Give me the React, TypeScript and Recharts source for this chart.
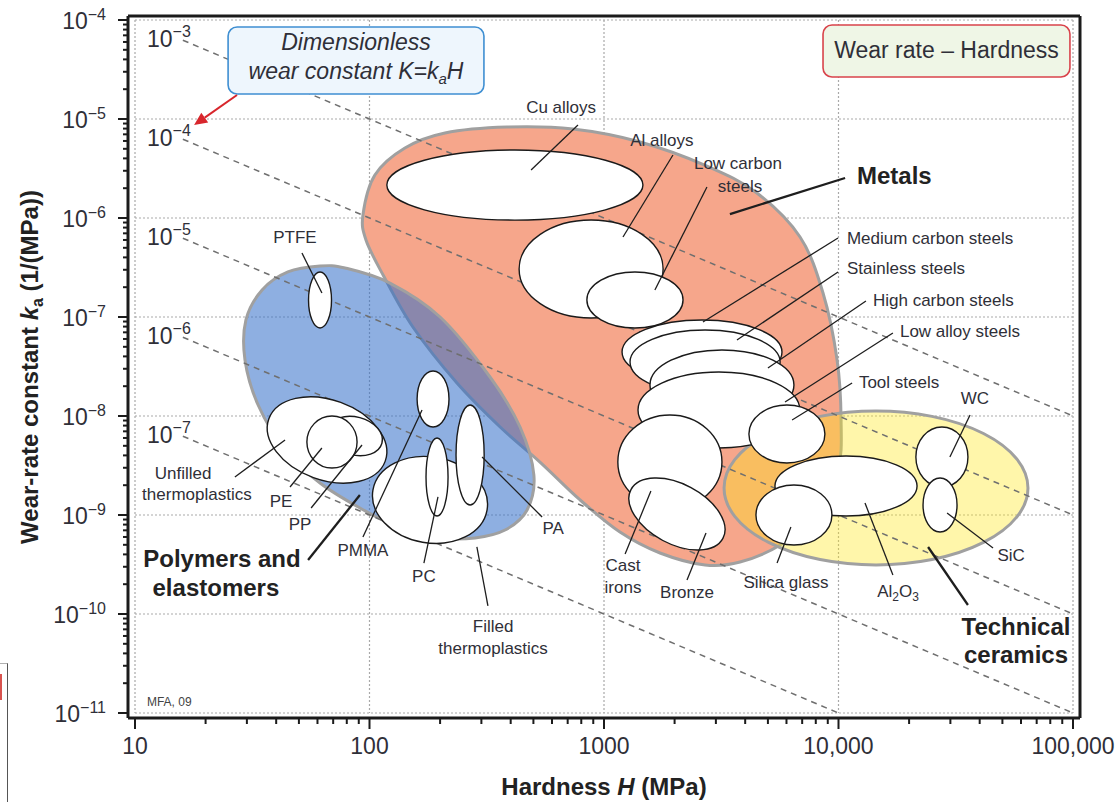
import React from "react";
import { ComposedChart, XAxis, YAxis, Scatter, Customized } from "recharts";
import * as RC from "recharts";

const FONT = "'Liberation Sans', Arial, Helvetica, sans-serif";
const INK = "#2f2f38";
const AXIS = "#1b1b1b";

// axis ticks
const xTicks = [10, 100, 1000, 10000, 100000];
const xTickLabels = ["10", "100", "1000", "10,000", "100,000"];
const yTicks = [1e-11, 1e-10, 1e-9, 1e-8, 1e-7, 1e-6, 1e-5, 1e-4];
const yTickExponents = ["−11", "−10", "−9", "−8", "−7", "−6", "−5", "−4"];
const minorSteps = [2, 3, 4, 5, 6, 7, 8, 9];
const xMinorTicks = xTicks.slice(0, -1).flatMap((d) => minorSteps.map((m) => m * d));
const yMinorTicks = yTicks.slice(0, -1).flatMap((d) => minorSteps.map((m) => m * d));

// guide lines of constant K = ka * H
const kValues = [1e-3, 1e-4, 1e-5, 1e-6, 1e-7];
const kExponents = ["−3", "−4", "−5", "−6", "−7"];

// bubbles: [name, log10 H, log10 ka, half width (decades H), half height (decades ka), tilt]
type Bubble = [string, number, number, number, number, number];

const metalBubbles: Bubble[] = [
  ["Cu alloys", 2.62, -5.667, 0.546, 0.354, 0],
  ["Al alloys", 2.945, -6.515, 0.307, 0.495, 0],
  ["Medium carbon steels", 3.418, -7.354, 0.341, 0.323, 0],
  ["Stainless steels", 3.431, -7.455, 0.32, 0.323, 0],
  ["High carbon steels", 3.503, -7.687, 0.307, 0.354, 0],
  ["Low alloy steels", 3.49, -7.939, 0.345, 0.384, 0],
  ["Low carbon steels", 3.132, -6.828, 0.205, 0.283, 0],
  ["Tool steels", 3.78, -8.182, 0.162, 0.293, 0],
  ["Cast irons", 3.281, -8.465, 0.222, 0.475, 0],
  ["Bronze", 3.311, -8.99, 0.222, 0.303, 28],
];

const ceramicBubbles: Bubble[] = [
  ["Al2O3", 4.032, -8.707, 0.303, 0.303, 0],
  ["Silica glass", 3.81, -9.0, 0.162, 0.303, 0],
  ["WC", 4.441, -8.414, 0.111, 0.303, 0],
  ["SiC", 4.433, -8.899, 0.0725, 0.273, 0],
];

const polymerBubbles: Bubble[] = [
  ["Unfilled thermoplastics", 1.819, -8.242, 0.264, 0.404, 20],
  ["PP", 1.938, -8.202, 0.119, 0.192, 15],
  ["PE", 1.84, -8.263, 0.107, 0.263, 0],
  ["Filled thermoplastics", 2.258, -8.848, 0.247, 0.434, 10],
  ["PTFE", 1.789, -6.828, 0.049, 0.283, 0],
  ["PMMA", 2.271, -7.828, 0.068, 0.283, 0],
  ["PC", 2.288, -8.616, 0.047, 0.394, 0],
  ["PA", 2.429, -8.394, 0.06, 0.505, 0],
];

// family envelopes, outline points [log10 H, log10 ka]
const metalsEnvelope: [number, number][] = [
  [1.972, -5.97], [2.023, -5.566], [2.151, -5.293], [2.322, -5.141], [2.586, -5.081],
  [2.868, -5.101], [3.154, -5.232], [3.439, -5.475], [3.652, -5.747], [3.836, -6.192],
  [3.934, -6.758], [3.994, -7.434], [4.011, -8.04], [3.998, -8.545], [3.9, -9.0],
  [3.751, -9.303], [3.58, -9.475], [3.431, -9.505], [3.239, -9.384], [3.068, -9.172],
  [2.898, -8.848], [2.727, -8.465], [2.557, -8.111], [2.373, -7.667], [2.185, -7.101],
  [2.058, -6.576], [1.985, -6.222],
];

const polymersEnvelope: [number, number][] = [
  [1.789, -6.485], [1.896, -6.505], [2.087, -6.657], [2.301, -7.0], [2.514, -7.606],
  [2.642, -8.111], [2.701, -8.596], [2.672, -8.949], [2.578, -9.152], [2.45, -9.232],
  [2.301, -9.232], [2.13, -9.131], [1.959, -8.929], [1.789, -8.677], [1.64, -8.343],
  [1.525, -7.889], [1.469, -7.434], [1.473, -7.03], [1.542, -6.727], [1.652, -6.545],
];

const ceramicsEnvelope: Bubble = ["Technical ceramics", 4.16, -8.727, 0.648, 0.778, 0];

// labels: [text, log10 H, log10 ka, anchor]
type Lbl = [string, number, number, "start" | "middle" | "end"];
const materialLabels: Lbl[] = [
  ["PTFE", 1.682, -6.192, "middle"],
  ["Unfilled", 1.205, -8.576, "middle"],
  ["thermoplastics", 1.264, -8.788, "middle"],
  ["PE", 1.623, -8.859, "middle"],
  ["PP", 1.704, -9.091, "middle"],
  ["PMMA", 1.972, -9.354, "middle"],
  ["PC", 2.232, -9.616, "middle"],
  ["PA", 2.783, -9.131, "middle"],
  ["Filled", 2.527, -10.121, "middle"],
  ["thermoplastics", 2.527, -10.343, "middle"],
  ["Cu alloys", 2.817, -4.879, "middle"],
  ["Al alloys", 3.247, -5.212, "middle"],
  ["Low carbon", 3.571, -5.444, "middle"],
  ["steels", 3.58, -5.677, "middle"],
  ["Medium carbon steels", 4.036, -6.202, "start"],
  ["Stainless steels", 4.036, -6.505, "start"],
  ["High carbon steels", 4.147, -6.828, "start"],
  ["Low alloy steels", 4.262, -7.141, "start"],
  ["Tool steels", 4.087, -7.657, "start"],
  ["WC", 4.582, -7.818, "middle"],
  ["SiC", 4.736, -9.404, "middle"],
  ["Al2O3", 4.254, -9.768, "middle"],
  ["Silica glass", 3.776, -9.677, "middle"],
  ["Bronze", 3.354, -9.778, "middle"],
  ["Cast", 3.081, -9.505, "middle"],
  ["irons", 3.081, -9.727, "middle"],
];

const familyLabels: Lbl[] = [
  ["Metals", 4.079, -5.576, "start"],
  ["Polymers and", 1.371, -9.444, "middle"],
  ["elastomers", 1.345, -9.737, "middle"],
  ["Technical", 4.757, -10.131, "middle"],
  ["ceramics", 4.757, -10.414, "middle"],
];

// leader lines [log10 H1, log10 ka1, log10 H2, log10 ka2]
const materialLeaders = [
  [1.712, -6.354, 1.797, -6.758],
  [1.426, -8.616, 1.64, -8.242],
  [1.661, -8.717, 1.797, -8.323],
  [1.751, -8.929, 1.968, -8.293],
  [1.972, -9.222, 2.224, -7.939],
  [2.232, -9.485, 2.292, -8.818],
  [2.736, -9.02, 2.48, -8.414],
  [2.458, -9.323, 2.505, -9.919],
  [2.889, -5.061, 2.689, -5.515],
  [3.294, -5.364, 3.081, -6.192],
  [3.439, -5.687, 3.217, -6.727],
  [3.998, -6.202, 3.422, -7.051],
  [3.998, -6.545, 3.567, -7.232],
  [4.117, -6.838, 3.699, -7.515],
  [4.232, -7.162, 3.772, -7.859],
  [4.058, -7.667, 3.802, -8.04],
  [4.561, -7.99, 4.475, -8.414],
  [4.659, -9.333, 4.463, -8.98],
  [4.232, -9.606, 4.113, -8.879],
  [3.738, -9.485, 3.797, -9.121],
  [3.354, -9.657, 3.435, -9.182],
  [3.09, -9.394, 3.2, -8.758],
];

const familyLeaders = [
  [4.028, -5.596, 3.537, -5.96],
  [1.738, -9.455, 1.959, -8.798],
  [4.552, -9.909, 4.382, -9.323],
];

// annotation boxes [log10 H1, log10 ka1, log10 H2, log10 ka2]
const constantBox = [1.397, -4.071, 2.488, -4.747];
const titleBox = [3.934, -4.051, 4.987, -4.576];
const constantArrow = [1.435, -4.758, 1.252, -5.061];

const bubbleCentres = [...metalBubbles, ...ceramicBubbles, ...polymerBubbles].map((b) => ({
  h: 10 ** b[1],
  k: 10 ** b[2],
}));

const X_PAD = { left: 7, right: 7 };
const Y_PAD = { top: 4, bottom: 5 };

const callScale = (s: any, v: number) => {
  if (!s) return NaN;
  if (typeof s === "function") return s(v);
  if (typeof s.map === "function") return s.map(v);
  if (typeof s.scale === "function") return s.scale(v);
  return NaN;
};

function useScales() {
  const lib: any = RC;
  const xs = typeof lib.useXAxisScale === "function" ? lib.useXAxisScale(0) : undefined;
  const ys = typeof lib.useYAxisScale === "function" ? lib.useYAxisScale(0) : undefined;
  const plot = typeof lib.usePlotArea === "function" ? lib.usePlotArea() : undefined;
  const area = plot ?? { x: 128, y: 16, width: 952, height: 702 };
  const fx = (v: number) =>
    area.x + X_PAD.left + ((Math.log10(v) - 1) / 4) * (area.width - X_PAD.left - X_PAD.right);
  const fy = (v: number) =>
    area.y + Y_PAD.top + ((-4 - Math.log10(v)) / 7) * (area.height - Y_PAD.top - Y_PAD.bottom);
  const sx = (v: number) => {
    const r = callScale(xs, v);
    return Number.isFinite(r) ? r : fx(v);
  };
  const sy = (v: number) => {
    const r = callScale(ys, v);
    return Number.isFinite(r) ? r : fy(v);
  };
  return { sx, sy, area };
}

const smoothClosed = (pts: number[][]) => {
  const n = pts.length;
  let d = `M${pts[0][0]},${pts[0][1]}`;
  for (let i = 0; i < n; i++) {
    const p0 = pts[(i - 1 + n) % n];
    const p1 = pts[i];
    const p2 = pts[(i + 1) % n];
    const p3 = pts[(i + 2) % n];
    const c1 = [p1[0] + (p2[0] - p0[0]) / 6, p1[1] + (p2[1] - p0[1]) / 6];
    const c2 = [p2[0] - (p3[0] - p1[0]) / 6, p2[1] - (p3[1] - p1[1]) / 6];
    d += ` C${c1[0]},${c1[1]} ${c2[0]},${c2[1]} ${p2[0]},${p2[1]}`;
  }
  return d + " Z";
};

function Overlay() {
  const { sx, sy, area } = useScales();
  const at = (lh: number, lk: number) => [sx(10 ** lh), sy(10 ** lk)];

  const left = sx(xTicks[0]);
  const right = sx(xTicks[xTicks.length - 1]);
  const top = sy(yTicks[yTicks.length - 1]);
  const bottom = sy(yTicks[0]);

  const ellipse = (b: Bubble, key: string, style: any) => {
    const [, lh, lk, hw, hk, tilt] = b;
    const [cx, cy] = at(lh, lk);
    const rx = (sx(10 ** (lh + hw)) - sx(10 ** (lh - hw))) / 2;
    const ry = (sy(10 ** (lk - hk)) - sy(10 ** (lk + hk))) / 2;
    return (
      <ellipse
        key={key}
        cx={cx}
        cy={cy}
        rx={rx}
        ry={ry}
        transform={tilt ? `rotate(${tilt} ${cx} ${cy})` : undefined}
        {...style}
      />
    );
  };

  const label = (l: Lbl, key: string, size: number, bold: boolean) => {
    const [t, lh, lk, anchor] = l;
    const [x, y] = at(lh, lk);
    const base = y + size * 0.35;
    const common = {
      x,
      y: base,
      textAnchor: anchor,
      fontSize: size,
      fontFamily: FONT,
      fontWeight: bold ? 700 : 400,
      fill: bold ? "#222" : INK,
    };
    if (t === "Al2O3") {
      return (
        <text key={key} {...common}>
          Al<tspan fontSize={12} dy={4}>2</tspan>
          <tspan dy={-4}>O</tspan>
          <tspan fontSize={12} dy={4}>3</tspan>
        </text>
      );
    }
    return (
      <text key={key} {...common}>
        {t}
      </text>
    );
  };

  const seg = (s: number[], key: string, width: number) => {
    const [x1, y1] = at(s[0], s[1]);
    const [x2, y2] = at(s[2], s[3]);
    return <line key={key} x1={x1} y1={y1} x2={x2} y2={y2} stroke="#1e1e1e" strokeWidth={width} />;
  };

  const box = (b: number[]) => {
    const [x1, y1] = at(b[0], b[1]);
    const [x2, y2] = at(b[2], b[3]);
    return { x: x1, y: y1, width: x2 - x1, height: y2 - y1 };
  };

  const cb = box(constantBox);
  const tb = box(titleBox);
  const [ax1, ay1] = at(constantArrow[0], constantArrow[1]);
  const [ax2, ay2] = at(constantArrow[2], constantArrow[3]);
  const alen = Math.hypot(ax2 - ax1, ay2 - ay1);
  const ux = (ax2 - ax1) / alen;
  const uy = (ay2 - ay1) / alen;
  const headL = 13;
  const headW = 6;
  const hb = [ax2 - ux * headL, ay2 - uy * headL];
  const arrowHead = `${ax2},${ay2} ${hb[0] - uy * headW},${hb[1] + ux * headW} ${hb[0] + uy * headW},${hb[1] - ux * headW}`;

  const white = { fill: "#ffffff", stroke: "#1a1a1a", strokeWidth: 1.4 };
  const mfa = at(1.051, -10.929);

  return (
    <g>
      {/* grid */}
      {xTicks.map((v) => (
        <line key={`gx${v}`} x1={sx(v)} x2={sx(v)} y1={top} y2={bottom} stroke="#a9a9a9" strokeWidth={1.2} strokeDasharray="2 2" />
      ))}
      {yTicks.map((v) => (
        <line key={`gy${v}`} x1={left} x2={right} y1={sy(v)} y2={sy(v)} stroke="#a9a9a9" strokeWidth={1.2} strokeDasharray="2 2" />
      ))}

      {/* family envelopes */}
      <path d={smoothClosed(metalsEnvelope.map(([h, k]) => at(h, k)))} fill="#f6a68b" stroke="#a0a0a0" strokeWidth={3} />
      <path d={smoothClosed(polymersEnvelope.map(([h, k]) => at(h, k)))} fill="rgba(50,110,200,0.55)" stroke="#a0a0a0" strokeWidth={3} />
      {ellipse(ceramicsEnvelope, "cer-env", { fill: "rgba(255,231,25,0.37)", stroke: "#a0a0a0", strokeWidth: 3 })}

      {/* K guide lines */}
      {kValues.map((K, i) => {
        const h0 = 16;
        const h1 = Math.min(xTicks[xTicks.length - 1], K / yTicks[0]);
        return (
          <g key={`k${i}`}>
            <line x1={sx(h0)} y1={sy(K / h0)} x2={sx(h1)} y2={sy(K / h1)} stroke="#6f6f6f" strokeWidth={1.5} strokeDasharray="6 5" />
            <text x={left + 12} y={sy(K / xTicks[0]) + 27} fontSize={23} fontFamily={FONT} fill={INK}>
              10<tspan dy={-10} fontSize={16}>{kExponents[i]}</tspan>
            </text>
          </g>
        );
      })}

      {/* material bubbles */}
      {metalBubbles.map((b) => ellipse(b, b[0], white))}
      {ceramicBubbles.map((b) => ellipse(b, b[0], white))}
      {polymerBubbles.map((b) => ellipse(b, b[0], white))}

      {/* leaders */}
      {materialLeaders.map((s, i) => seg(s, `ml${i}`, 1.3))}
      {familyLeaders.map((s, i) => seg(s, `fl${i}`, 2.3))}

      {/* labels */}
      {materialLabels.map((l, i) => label(l, `lb${i}`, 17, false))}
      {familyLabels.map((l, i) => label(l, `fb${i}`, 24, true))}
      <text x={mfa[0]} y={mfa[1]} fontSize={12} fontFamily={FONT} fill="#444">MFA, 09</text>

      {/* annotation boxes */}
      <rect {...cb} rx={9} fill="#eef6fd" stroke="#3f8fd2" strokeWidth={1.6} />
      <text x={cb.x + cb.width / 2} y={cb.y + 23} textAnchor="middle" fontSize={23} fontStyle="italic" fontFamily={FONT} fill={INK}>
        Dimensionless
      </text>
      <text x={cb.x + cb.width / 2} y={cb.y + 52} textAnchor="middle" fontSize={23} fontStyle="italic" fontFamily={FONT} fill={INK}>
        wear constant K=k<tspan fontSize={15} dy={5}>a</tspan>
        <tspan dy={-5}>H</tspan>
      </text>
      <line x1={ax1} y1={ay1} x2={hb[0]} y2={hb[1]} stroke="#d8262c" strokeWidth={2} />
      <polygon points={arrowHead} fill="#d8262c" />

      <rect {...tb} rx={9} fill="#eff6e6" stroke="#d9434b" strokeWidth={1.6} />
      <text x={tb.x + tb.width / 2} y={tb.y + 33} textAnchor="middle" fontSize={23} fontFamily={FONT} fill={INK}>
        Wear rate – Hardness
      </text>

      {/* axis titles */}
      <text x={area.x + area.width / 2} y={area.y + area.height + 77} textAnchor="middle" fontSize={24} fontWeight={700} fontFamily={FONT} fill="#222">
        Hardness <tspan fontStyle="italic">H</tspan> (MPa)
      </text>
      <text
        x={38}
        y={area.y + area.height / 2}
        transform={`rotate(-90 38 ${area.y + area.height / 2})`}
        textAnchor="middle"
        fontSize={24}
        fontWeight={700}
        fontFamily={FONT}
        fill="#222"
      >
        Wear-rate constant <tspan fontStyle="italic">k</tspan>
        <tspan fontSize={16} dy={5}>a</tspan>
        <tspan dy={-5}> (1/(MPa))</tspan>
      </text>
    </g>
  );
}

const XTick = (p: any) => {
  const i = xTicks.indexOf(p.payload?.value);
  const len = i >= 0 ? 11 : 6;
  return (
    <g>
      <line x1={p.x} x2={p.x} y1={p.y} y2={p.y + len} stroke={AXIS} strokeWidth={2} />
      {i >= 0 && (
        <text x={p.x} y={p.y + 36} textAnchor="middle" fontSize={23} fontFamily={FONT} fill={INK}>
          {xTickLabels[i]}
        </text>
      )}
    </g>
  );
};

const YTick = (p: any) => {
  const i = yTicks.indexOf(p.payload?.value);
  const len = i >= 0 ? 10 : 5;
  return (
    <g>
      <line x1={p.x} x2={p.x - len} y1={p.y} y2={p.y} stroke={AXIS} strokeWidth={2} />
      {i >= 0 && (
        <text x={p.x - 22} y={p.y + 9} textAnchor="end" fontSize={23} fontFamily={FONT} fill={INK}>
          10<tspan dy={-9} fontSize={16}>{yTickExponents[i]}</tspan>
        </text>
      )}
    </g>
  );
};

export default function App() {
  return (
    <div style={{ position: "absolute", left: 0, top: 0, width: 1116, height: 802, background: "#fff" }}>
      <ComposedChart width={1116} height={802} margin={{ top: 15, right: 35, bottom: 0, left: 0 }} data={bubbleCentres}>
        <XAxis
          dataKey="h"
          type="number"
          scale="log"
          domain={[10, 100000]}
          allowDataOverflow
          ticks={[...xTicks, ...xMinorTicks]}
          interval={0}
          padding={X_PAD}
          height={84}
          tickLine={false}
          tickSize={0}
          tickMargin={0}
          tick={(p: any) => <XTick {...p} />}
          axisLine={{ stroke: AXIS, strokeWidth: 3 }}
        />
        <YAxis
          dataKey="k"
          type="number"
          scale="log"
          domain={[1e-11, 1e-4]}
          allowDataOverflow
          ticks={[...yTicks, ...yMinorTicks]}
          interval={0}
          padding={Y_PAD}
          width={128}
          tickLine={false}
          tickSize={0}
          tickMargin={0}
          tick={(p: any) => <YTick {...p} />}
          axisLine={{ stroke: AXIS, strokeWidth: 3 }}
        />
        <XAxis xAxisId="top" orientation="top" type="number" scale="log" domain={[10, 100000]} allowDataOverflow height={1} tick={false} tickLine={false} axisLine={{ stroke: AXIS, strokeWidth: 3 }} />
        <YAxis yAxisId="right" orientation="right" type="number" scale="log" domain={[1e-11, 1e-4]} allowDataOverflow width={1} tick={false} tickLine={false} axisLine={{ stroke: AXIS, strokeWidth: 3 }} />
        <Scatter dataKey="k" fill="none" shape={() => <g />} isAnimationActive={false} />
        <Customized component={Overlay} />
      </ComposedChart>
      <div style={{ position: "absolute", left: 0, top: 663, width: 7, height: 139, borderTop: "1px solid #b0b0b0", borderRight: "1.5px solid #555" }} />
      <div style={{ position: "absolute", left: 0, top: 674, width: 2, height: 26, background: "#d9534f" }} />
    </div>
  );
}
